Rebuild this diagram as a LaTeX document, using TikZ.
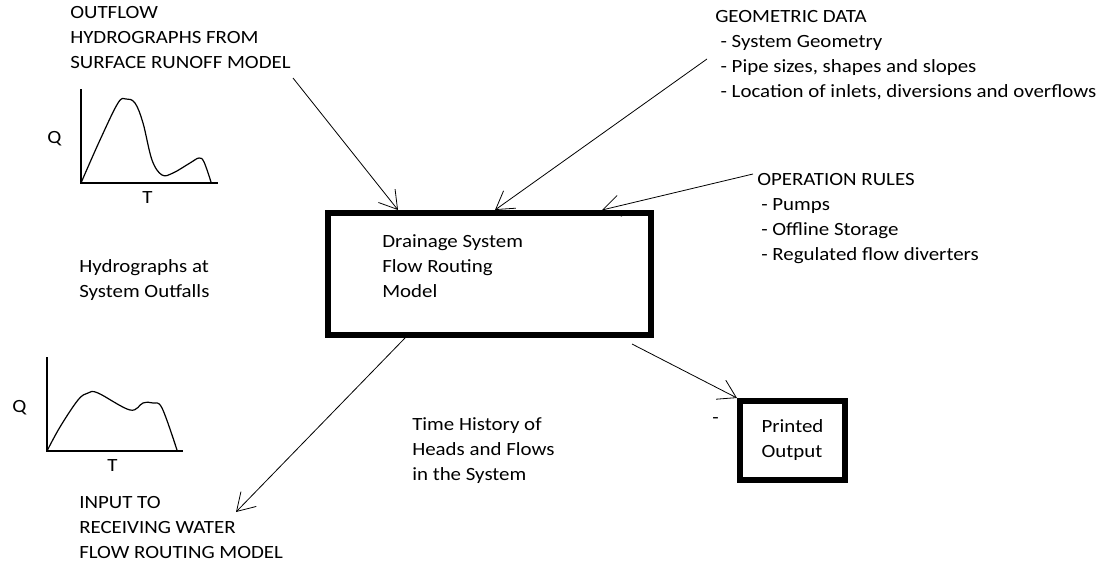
\documentclass[tikz,border=0pt]{standalone}
\usepackage{fontspec}
\setmainfont{Carlito}[FakeStretch=1.12]
\usetikzlibrary{arrows.meta,calc}

\tikzset{
  txt/.style={anchor=base west,align=left,inner sep=0pt,font=\fontsize{14}{18.75}\selectfont},
  thickbox/.style={draw,line width=4.5pt},
  link/.style={line width=0.6pt,-{Straight Barb[length=13pt,width=16pt]}},
  hydro/.style={line width=0.9pt}
}

\begin{document}
\begin{tikzpicture}[x=0.75pt,y=-0.75pt]
        \useasboundingbox (0,0) rectangle (1107,564);
        \node[thickbox,minimum width=242.25pt,minimum height=91.5pt] (box) at (489.5,274) {};
        \node[txt] (model) at (382,297) {Drainage System\\Flow Routing\\Model};
        \node[thickbox,txt,anchor=center,minimum width=78.75pt,minimum height=59.25pt] (prn) at (792.5,440.5) {Printed\\Output};
        \node[txt] (outflow) at (70,68) {OUTFLOW\\HYDROGRAPHS FROM\\SURFACE RUNOFF MODEL};
        \node[txt] (geo) at (715,97) {GEOMETRIC DATA\\\hspace*{4pt}- System Geometry\\\hspace*{4pt}- Pipe sizes, shapes and slopes\\\hspace*{4pt}- Location of inlets, diversions and overflows};
        \node[txt] (rules) at (757,260) {OPERATION RULES\\\hspace*{3pt}- Pumps\\\hspace*{3pt}- Offline Storage\\\hspace*{3pt}- Regulated flow diverters};
        \node[txt] (outfalls) at (79,297) {Hydrographs at\\System Outfalls};
        \node[txt] (history) at (412,480) {Time History of\\Heads and Flows\\in the System};
        \node[txt] (input) at (79,558) {INPUT TO\\RECEIVING WATER\\FLOW ROUTING MODEL};
        \node[txt] (dash) at (712,423) {-};
        \node[txt] (q1) at (47,143) {Q};
        \node[txt] (t1) at (142,203) {T};
        \node[txt] (q2) at (12,412) {Q};
        \node[txt] (t2) at (107,471) {T};
        \draw[hydro] (81,89) -- (81,183) -- (218,183);
        \draw[hydro] plot[smooth,tension=0.6] coordinates {(81,183) (100,140) (118,103) (126,99) (135,103) (143,123) (152,160) (162,175) (173,173) (190,163) (199,158) (204,162) (211,182)};
        \draw[hydro] (47,357) -- (47,451) -- (183,451);
        \draw[hydro] plot[smooth,tension=0.6] coordinates {(47,451) (60,427) (78,400) (88,393) (98,393) (130,410) (143,403) (153,403) (162,408) (177,450)};
        \coordinate (s1) at (293,78);
        \coordinate (s2) at (707,59);
        \coordinate (s3) at (753,174);
        \coordinate (e4) at (236,512);
        \draw[link] (s1) -- ($(box.north)+(-91.5,0)$);
        \draw[link] (s2) -- ($(box.north)+(5.5,0)$);
        \draw[link] (s3) -- ($(box.north)+(112.5,0)$);
        \draw[link] ($(box.south)+(-84.5,0)$) -- (e4);
        \draw[link] ($(box.south)+(142.5,6)$) -- (prn.north west);
    \end{tikzpicture}
\end{document}
